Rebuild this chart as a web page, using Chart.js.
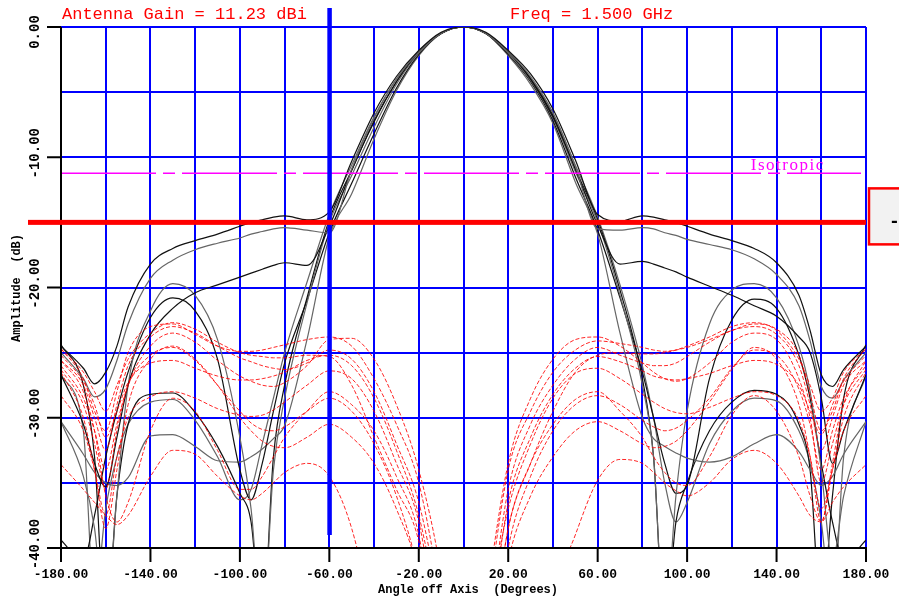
<!DOCTYPE html>
<html>
<head>
<meta charset="utf-8">
<script src="https://cdn.jsdelivr.net/npm/chart.js@4.4.1/dist/chart.umd.min.js"></script>
<style>
  html, body { margin: 0; padding: 0; background: #fff; }
</style>
</head>
<body>
<canvas id="pattern" width="899" height="597"></canvas>
<script>
// angles (deg) where every cut is sampled
const angles = [-180,-170,-165,-160,-155,-150,-140,-130,-120,-110,-100,-95,-90,-85,-80,-70,-60,-50,-40,-30,-20,-10,0,10,20,30,40,50,60,70,80,85,90,95,100,110,120,130,140,150,155,160,165,170,180]

// co-pol cuts (solid)
const co1 = [-24.5,-26.2,-27.4,-26.5,-24.5,-21.5, -18.2,-17.0,-16.4,-15.9,-15.3, -15.0,-14.8,-14.6,-14.5, -14.8,-14.2,-10.3,-6.6,-3.8,-1.8,-0.4, 0, -0.4,-1.8,-3.6,-6.3,-10.2,-14.4,-14.9, -14.5,-14.6,-14.8,-15.0,-15.3, -15.9,-16.4,-17.0,-18.1,-20.6, -23.3,-26.7,-27.6,-26.3,-24.5]
const co2 = [-25.0,-27.0,-28.4,-27.8,-25.6,-22.8, -19.3,-17.9,-17.1,-16.6,-16.2, -15.9,-15.7,-15.5,-15.4, -15.6,-15.8,-10.9,-7.0,-4.0,-1.9,-0.5, 0, -0.5,-1.9,-3.8,-6.6,-10.7,-15.5,-15.6, -15.4,-15.5,-15.8,-16.0,-16.3, -16.7,-17.1,-17.8,-19.0,-21.4, -24.1,-27.6,-28.5,-27.1,-25.0]
const co3 = [-26.7,-30.5,-33.5,-35.3,-31.5,-27.5, -23.6,-21.6,-20.4,-19.8,-19.2, -18.9,-18.6,-18.3,-18.1, -18.3,-15.3,-11.0,-7.3,-4.2,-1.9,-0.5, 0, -0.5,-1.9,-4.0,-6.9,-10.9,-15.2,-18.2, -18.0,-18.2,-18.5,-18.8,-19.2, -19.9,-20.6,-21.4,-22.2,-23.8, -25.0,-28.5,-33.5,-31.0,-26.7]
const co4 = [-30.3,-34.5,-38.5,-46,-36,-27.5, -21.8,-19.7,-20.6,-24.0,-31.5, -37,-46,-34,-28.5, -21.2,-15.0,-11.4,-7.7,-4.4,-2.0,-0.5, 0, -0.5,-2.0,-4.1,-7.0,-11.1,-15.0,-20.6, -27.5,-33,-46,-36,-29.5, -22.8,-20.2,-19.7,-20.8,-24.5, -28,-34,-41,-36,-30.3]
const co5 = [-39.4,-41,-37.5,-33,-29.5,-26.5, -22.3,-20.8,-21.8,-25.5,-34.0, -36.3,-33.5,-29.5,-25.8, -21.0,-15.8,-12.0,-8.2,-4.7,-2.1,-0.5, 0, -0.5,-2.1,-4.2,-7.2,-11.5,-15.6,-20.8, -26.5,-30,-33.5,-35.8,-35.2, -27,-22.5,-20.9,-21.6,-25.2, -28.5,-33.5,-38,-41,-39.4]
const co6 = [-30.3,-32.8,-34.2,-35.0,-35.2,-34.6, -31.4,-31.3,-32.2,-33.3,-33.4, -33.0,-32.4,-31.6,-30.6, -24.0,-16.1,-12.8,-8.6,-4.9,-2.2,-0.5, 0, -0.5,-2.2,-4.4,-7.4,-11.9,-15.9,-23.5, -30.0,-31.6,-32.2,-32.7,-33.1, -33.4,-33.0,-32.0,-31.3,-32.6, -34.0,-35.2,-34.5,-32.8,-30.3]
const co7 = [-24.4,-27.5,-33,-46,-36,-30.5, -28.2,-28.1,-29.6,-32.2,-35.8, -38,-46,-33,-27.5, -20.8,-14.8,-11.0,-7.2,-4.2,-1.9,-0.5, 0, -0.5,-1.9,-4.0,-6.8,-10.9,-14.8,-20.2, -27,-33,-46,-38,-35, -31,-28.8,-27.9,-28.2,-30.5, -34,-45,-36,-28.5,-24.4]
const co8 = [-26.7,-31,-44,-37,-33,-30.5, -28.8,-28.6,-30.2,-33,-36.3, -35.5,-32,-28.5,-25, -19.6,-14.4,-10.6,-6.9,-4.0,-1.9,-0.5, 0, -0.5,-1.9,-3.9,-6.6,-10.6,-14.6,-19.8, -26,-30,-35,-38,-36.5, -32,-29.5,-28.5,-28.7,-31, -33.5,-38,-45,-33,-26.7]

// cross-pol cuts (dashed)
const xp1 = [-24.7,-26.5,-28,-29.5,-27.5,-25.5, -23.5,-22.7,-23.2,-24.2,-25.0, -25.2,-25.3,-25.4,-25.4, -25.2,-25.3,-27.5,-31.5,-35.5,-39.5,-50, -55, -50,-38.5,-33.5,-29.5,-26.5,-25.2,-25.0, -25.1,-25.1,-25.0,-24.8,-24.5, -23.8,-23.0,-22.7,-23.3,-25.5, -27.5,-29.5,-28.5,-26.5,-24.7]
const xp2 = [-25.6,-27.5,-30,-32.5,-29,-26, -23.8,-23.0,-23.5,-24.5,-25.4, -25.7,-26.0,-26.2,-26.3, -25.8,-24.8,-25.5,-28.0,-32,-36.5,-45, -55, -47,-35.5,-30.5,-27.5,-25.5,-24.6,-25.2, -25.8,-26.0,-26.0,-25.8,-25.3, -24.2,-23.3,-23.0,-23.6,-26, -29,-32.5,-30,-27.5,-25.6]
const xp3 = [-26.3,-29,-32,-35.5,-31,-27.5, -24.5,-23.5,-24.2,-25.6,-26.8, -27.2,-27.5,-27.6,-27.3, -26.0,-24.0,-23.9,-25.5,-29,-34,-42, -55, -44,-33.5,-28.5,-25.5,-24.0,-23.8,-24.5, -25.8,-26.5,-27.0,-27.2,-27.0, -25.8,-24.2,-23.5,-24.0,-27, -30,-35,-32,-29,-26.3]
const xp4 = [-28.3,-31,-34,-37.5,-33,-30, -28.4,-28.0,-28.5,-29.3,-29.8, -29.9,-29.8,-29.4,-28.8, -27.5,-26.4,-27.0,-29.5,-33.5,-38,-48, -55, -46,-37,-32,-28.5,-26.6,-26.2,-27.0, -28.2,-28.8,-29.3,-29.6,-29.7, -29.2,-28.5,-28.0,-28.3,-30.2, -33,-37,-34,-31,-28.3]
const xp5 = [-33.6,-35.5,-36.5,-37.5,-38.2,-37.5, -34.5,-32.5,-32.8,-34.5,-36.0, -36.3,-35.8,-35.0,-34.2, -33.5,-34.5,-38.5,-46,-55,-60,-60, -60, -60,-60,-55,-44,-39,-34.8,-33.2, -33.5,-34.2,-35,-35.6,-36, -35,-33.2,-32.5,-33.5,-36, -37.5,-38,-36.5,-35.3,-33.6]
const xp6 = [-26.0,-28.5,-31,-34,-30.5,-27.5, -25.2,-24.6,-25.6,-27.5,-29.5, -30.4,-30.9,-31.0,-30.7, -29.5,-28.5,-29.5,-32,-36,-42,-52, -55, -52,-40,-34.5,-31,-29,-28.3,-29, -30.2,-30.7,-31,-30.8,-30.2, -28.5,-26.2,-24.8,-25.2,-27.8, -30.5,-34,-31,-28.5,-26.0]
const xp7 = [-25.6,-28,-31,-36,-38,-36.5, -31,-28.5,-29.5,-32.5,-35.5, -35.5,-34.5,-33,-31.5, -29.5,-28.0,-29,-31,-34.5,-39,-50, -55, -50,-38.5,-33.5,-30.5,-28.6,-28,-29.5, -31.5,-33,-34.2,-35,-35.2, -33,-29.8,-28.3,-29.5,-33, -36,-38,-33.5,-29,-25.6]
const xp8 = [-24.7,-27,-29.5,-31,-28,-25, -23.0,-22.8,-23.6,-24.5,-24.9, -24.9,-24.8,-24.6,-24.4, -24.0,-23.8,-24.5,-27,-30.5,-35,-44, -55, -45,-34,-29.5,-26.5,-24.8,-24.1,-24.3, -24.6,-24.8,-24.9,-24.8,-24.6, -24.0,-23.3,-22.8,-23.2,-25.2, -28.2,-31,-29.5,-27,-24.7]
const xp9 = [-26.5,-30,-34,-38.5,-34,-29, -25.5,-24.5,-25.5,-27.5,-30, -31,-31.8,-32.2,-32.3, -31.5,-30.5,-31.5,-33.5,-37,-42,-52, -55, -52,-41,-36,-33,-31,-30.3,-31, -32,-32.3,-32.2,-31.8,-31, -28.8,-26.3,-24.6,-25.5,-29, -33,-38,-34,-30,-26.5]
const xp10 = [-25.2,-27.2,-29,-31.5,-29.5,-27.3, -25.8,-25.6,-26.2,-26.8,-27.1, -27.1,-27.0,-26.8,-26.5, -25.6,-25.2,-26,-28.5,-32.5,-37.5,-46, -55, -48,-36.5,-31.5,-28.2,-26.2,-25.3,-25.7, -26.4,-26.8,-27,-27.1,-27, -26.6,-26,-25.6,-25.9,-27.5, -29.5,-31.3,-29,-27.2,-25.2]

const xTicks = [-180, -140, -100, -60, -20, 20, 60, 100, 140, 180]
const yTicks = [0, -10, -20, -30, -40]

const antennaGain = 11.23   // dBi
const freqGHz = 1.5
const isoLevel = -11.23     // isotropic reference, dB
const markerAngle = -60
const markerLevel = -15

const coCuts = [co1, co2, co3, co4, co5, co6, co7, co8]
const xpCuts = [xp1, xp2, xp3, xp4, xp5, xp6, xp7, xp8, xp9, xp10]

function toPoints(vals) {
    return angles.map((a, i) => ({x: a, y: vals[i]}))
}

let datasets = []
xpCuts.forEach(c => {
    datasets.push({
        data: toPoints(c),
        borderColor: 'rgba(255,0,0,0.85)',
        borderWidth: 1,
        borderDash: [4, 2],
        pointRadius: 0,
        cubicInterpolationMode: 'monotone',
        clip: 0
    })
})
coCuts.forEach((c, i) => {
    datasets.push({
        data: toPoints(c),
        borderColor: i % 2 ? '#666666' : '#111111',
        borderWidth: 1.2,
        pointRadius: 0,
        cubicInterpolationMode: 'monotone',
        clip: 0
    })
})

// axes, labels, markers and the isotropic level
const overlay = {
    id: 'overlay',
    afterDatasetsDraw(chart) {
        const {ctx, chartArea: a, scales: {x, y}} = chart
        ctx.save()

        // isotropic
        const iy = y.getPixelForValue(isoLevel)
        ctx.strokeStyle = '#ff00ff'
        ctx.lineWidth = 1.5
        ctx.setLineDash([95, 7, 12, 7])
        ctx.beginPath()
        ctx.moveTo(a.left, iy)
        ctx.lineTo(a.right - 5, iy)
        ctx.stroke()
        ctx.setLineDash([])
        ctx.fillStyle = '#ff00ff'
        ctx.font = '17px "Liberation Serif"'
        ctx.letterSpacing = '1.5px'
        ctx.textAlign = 'left'
        ctx.textBaseline = 'alphabetic'
        ctx.fillText('Isotropic', x.getPixelForValue(128.5), iy - 3)
        ctx.letterSpacing = '0px'

        // black axes
        ctx.fillStyle = '#000'
        ctx.fillRect(a.left - 1, a.top, 2, a.bottom - a.top + 1)
        ctx.fillRect(a.left - 1, a.bottom - 1, a.right - a.left + 2, 2)

        // x ticks + labels
        ctx.font = 'bold 13px "Liberation Mono"'
        ctx.textAlign = 'center'
        ctx.textBaseline = 'alphabetic'
        xTicks.forEach(v => {
            const px = x.getPixelForValue(v)
            ctx.fillRect(px - 1, a.bottom, 2, 14)
            ctx.fillText(v.toFixed(2), px, 578)
        })

        // y ticks + rotated labels
        ctx.font = 'bold 14px "Liberation Mono"'
        ctx.textBaseline = 'middle'
        yTicks.forEach(v => {
            const py = y.getPixelForValue(v)
            ctx.fillRect(a.left - 14, py - 1, 14, 2)
            ctx.save()
            ctx.translate(35, Math.max(py - 4, 32))
            ctx.rotate(-Math.PI / 2)
            ctx.fillText(v.toFixed(2), 0, 0)
            ctx.restore()
        })

        // axis titles
        ctx.font = 'bold 12px "Liberation Mono"'
        ctx.fillText('Angle off Axis  (Degrees)', 468, 590)
        ctx.save()
        ctx.translate(17, 288)
        ctx.rotate(-Math.PI / 2)
        ctx.fillText('Amplitude  (dB)', 0, 0)
        ctx.restore()

        // header
        ctx.fillStyle = '#ff0000'
        ctx.font = '17px "Liberation Mono"'
        ctx.textAlign = 'left'
        ctx.textBaseline = 'alphabetic'
        ctx.fillText('Antenna Gain = ' + antennaGain.toFixed(2) + ' dBi', 62, 19)
        ctx.fillText('Freq = ' + freqGHz.toFixed(3) + ' GHz', 510, 19)

        // angle marker
        const mx = x.getPixelForValue(markerAngle)
        ctx.fillStyle = '#0000ff'
        ctx.fillRect(mx - 2, 8, 4.5, 527)

        // level marker
        const my = y.getPixelForValue(markerLevel)
        ctx.fillStyle = '#ff0000'
        ctx.fillRect(28, my - 2.5, a.right - 28, 5)
        ctx.fillStyle = '#f2f2f2'
        ctx.fillRect(869, my - 34, 40, 56)
        ctx.strokeStyle = '#ff0000'
        ctx.lineWidth = 2.5
        ctx.strokeRect(869, my - 34, 40, 56)
        ctx.fillStyle = '#000'
        ctx.font = 'bold 18px "Liberation Mono"'
        ctx.textBaseline = 'middle'
        ctx.fillText(markerLevel.toFixed(2), 889, my)

        ctx.restore()
    }
}

new Chart(document.getElementById('pattern'), {
    type: 'line',
    data: {datasets},
    options: {
        responsive: false,
        animation: false,
        layout: {padding: {top: 27, right: 33, left: 0, bottom: 0}},
        plugins: {
            legend: {display: false},
            tooltip: {enabled: false}
        },
        scales: {
            x: {
                type: 'linear',
                min: -180,
                max: 180,
                ticks: {display: false, stepSize: 20},
                border: {display: false},
                grid: {
                    drawTicks: false,
                    lineWidth: 2,
                    color: c => c.tick && c.tick.value === -180 ? 'rgba(0,0,0,0)' : '#0000ff'
                },
                afterFit: s => { s.height = 49 }
            },
            y: {
                min: -40,
                max: 0,
                ticks: {display: false, stepSize: 5},
                border: {display: false},
                grid: {
                    drawTicks: false,
                    lineWidth: 2,
                    color: c => c.tick && c.tick.value === -40 ? 'rgba(0,0,0,0)' : '#0000ff'
                },
                afterFit: s => { s.width = 61 }
            }
        }
    },
    plugins: [overlay]
})
</script>
</body>
</html>
